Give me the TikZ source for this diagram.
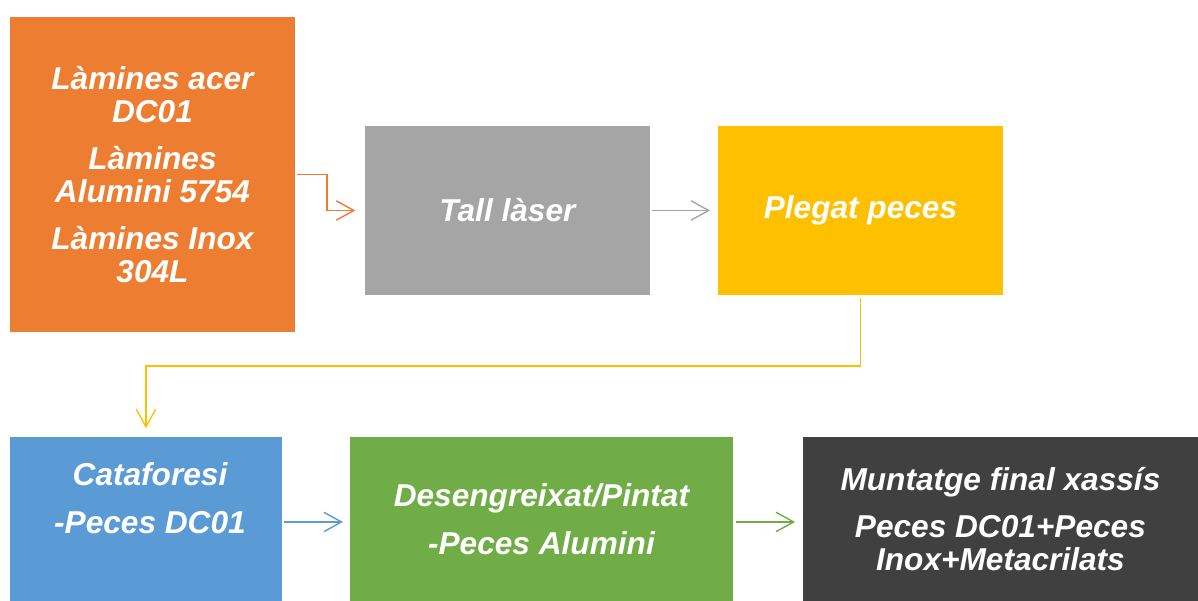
\documentclass[tikz,border=0pt]{standalone}
\usepackage{fontspec}
\setmainfont{Liberation Sans}
\usetikzlibrary{arrows.meta,calc,positioning}
\definecolor{lamorange}{HTML}{ED7D31}
\definecolor{lasgray}{HTML}{A5A5A5}
\definecolor{plegyellow}{HTML}{FFC000}
\definecolor{catblue}{HTML}{5B9BD5}
\definecolor{pintgreen}{HTML}{70AD47}
\definecolor{muntdark}{HTML}{404040}

\tikzset{
  stepbox/.style={inner sep=0pt, outer sep=0pt, anchor=north west,
    text=white, align=center,
    font=\fontsize{18}{18.5}\selectfont\bfseries\itshape},
  steptext/.style={inner sep=0pt, text=white, align=center,
    font=\fontsize{18}{18.5}\selectfont\bfseries\itshape},
  flow/.style={line width=0.8pt, -{Straight Barb[length=10pt,width=11pt]}},
}

\begin{document}
\begin{tikzpicture}[x=0.02cm, y=-0.02cm]
  \useasboundingbox (0,0) rectangle (1198,601);
  % top row
  \node [stepbox, fill=lamorange, minimum width=5.7cm, minimum height=6.3cm]
    (lamines) at (10,17)
    {Làmines acer\\DC01\\[8.5pt]Làmines\\Alumini 5754\\[8.5pt]Làmines Inox\\304L};
  \node [stepbox, fill=lasgray, minimum width=5.7cm, minimum height=3.38cm]
    (tall) at (365,126) {Tall làser};
  \node [stepbox, fill=plegyellow, minimum width=5.7cm, minimum height=3.38cm]
    (plegat) at (718,126) {Plegat peces};
  % bottom row
  \node [stepbox, fill=catblue, minimum width=5.44cm, minimum height=3.28cm]
    (cataf) at (10,437) {};
  \node [steptext] (catafText) at (150,498) {Cataforesi\\[8.5pt]-Peces DC01};
  \node [stepbox, fill=pintgreen, minimum width=7.66cm, minimum height=3.28cm]
    (pintat) at (350,437) {Desengreixat/Pintat\\[8.5pt]-Peces Alumini};
  \node [stepbox, fill=muntdark, minimum width=7.9cm, minimum height=3.28cm]
    (muntatge) at (803,437)
    {Muntatge final xassís\\[8.5pt]Peces DC01+Peces\\Inox+Metacrilats};
  % arrows
  \draw [flow, lamorange, shorten <=1pt, shorten >=5.5pt]
    (lamines.east) -- ++(32,0) |- (tall.west);
  \draw [flow, lasgray, shorten <=1pt, shorten >=4.5pt]
    (tall.east) -- (plegat.west);
  \draw [flow, plegyellow, shorten <=1.5pt, shorten >=5pt]
    (plegat.south) -- ++(0,71) -| (cataf.north);
  \draw [flow, catblue, shorten <=1pt, shorten >=4pt]
    ([yshift=-1.7pt]cataf.east) -- ([yshift=-1.7pt]pintat.west);
  \draw [flow, pintgreen, shorten <=2pt, shorten >=4.5pt]
    ([yshift=-1.7pt]pintat.east) -- ([yshift=-1.7pt]muntatge.west);
\end{tikzpicture}
\end{document}
